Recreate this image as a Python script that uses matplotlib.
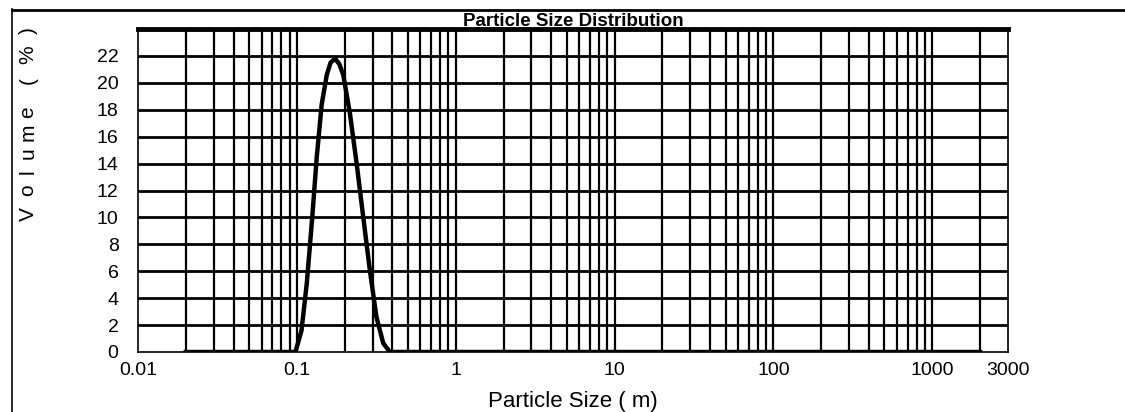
import numpy as np
import matplotlib
matplotlib.use("Agg")
from matplotlib import pyplot as plt
from matplotlib.lines import Line2D

plt.rcParams['font.family'] = ['Liberation Sans', 'DejaVu Sans']

# particle size (um) and volume (%)
size = [0.02, 0.05, 0.098, 0.107, 0.1155, 0.125, 0.1335, 0.1434, 0.1544, 0.163, 0.174,
        0.185, 0.196, 0.216, 0.238, 0.262, 0.288, 0.317, 0.35, 0.385, 1.0, 100.0, 2000.0]
volume = [0.0, 0.0, 0.0, 1.6, 5.1, 10.0, 14.5, 18.4, 20.6, 21.5, 21.8,
          21.4, 20.6, 17.7, 14.0, 10.0, 6.1, 2.6, 0.65, 0.0, 0.0, 0.0, 0.0]

y_ticks = [0, 2, 4, 6, 8, 10, 12, 14, 16, 18, 20, 22]
x_ticks = [0.01, 0.1, 1, 10, 100, 1000, 3000]
x_labels = ['0.01', '0.1', '1', '10', '100', '1000', '3000']
y_title = ['V', 'o', 'l', 'u', 'm', 'e', '(', '%', ')']

fig = plt.figure(figsize=(11.25, 4.12), dpi=100)
ax = fig.add_axes([138/1125, 1-352/412, (1008-138)/1125, (352-29)/412])

# vertical log grid: 1..9 in every decade up to 2000
vlines = [m * 10.0**e for e in range(-2, 4) for m in range(1, 10) if m * 10.0**e <= 2000]
for v in vlines[1:]:
    ax.axvline(v, color='black', lw=1.6, zorder=1)
for h in y_ticks[1:]:
    ax.axhline(h, color='black', lw=2.0, zorder=1)

ax.plot(size, volume, color='black', lw=3.2, zorder=3, solid_joinstyle='round')

ax.set_xscale('log')
ax.set_xlim(0.01, 3000)
ax.set_ylim(0, 24)
ax.set_xticks(x_ticks)
ax.set_xticklabels(x_labels)
ax.minorticks_off()
ax.set_yticks(y_ticks)
ax.tick_params(length=0, labelsize=14, pad=7)
ax.tick_params(axis='y', pad=14)
for s in ['left', 'right', 'bottom']:
    ax.spines[s].set_linewidth(1.2)
ax.spines['top'].set_linewidth(3.5)

fig.text(573/1125, 1-22/412, 'Particle Size Distribution', fontsize=13.5,
         fontweight='bold', ha='center', va='center')
ax.set_xlabel('Particle Size ( m)', fontsize=16, labelpad=9)

# spaced-out rotated y title, one glyph at a time (pixel rows from the top)
glyph_rows = [214, 190, 172, 153, 132, 112, 80, 55, 31]
for ch, row in zip(y_title, glyph_rows):
    fig.text(28/1125, 1-row/412, ch, rotation=90, fontsize=15,
             ha='center', va='center')

# outer frame of the scanned page
fig.add_artist(Line2D([12/1125, 12/1125], [0, 1-9/412], color='black', lw=1.2,
                      transform=fig.transFigure))
fig.add_artist(Line2D([12/1125, 1], [1-10/412, 1-10/412], color='black', lw=2.0,
                      transform=fig.transFigure))

fig.savefig('out.png', dpi=100)
